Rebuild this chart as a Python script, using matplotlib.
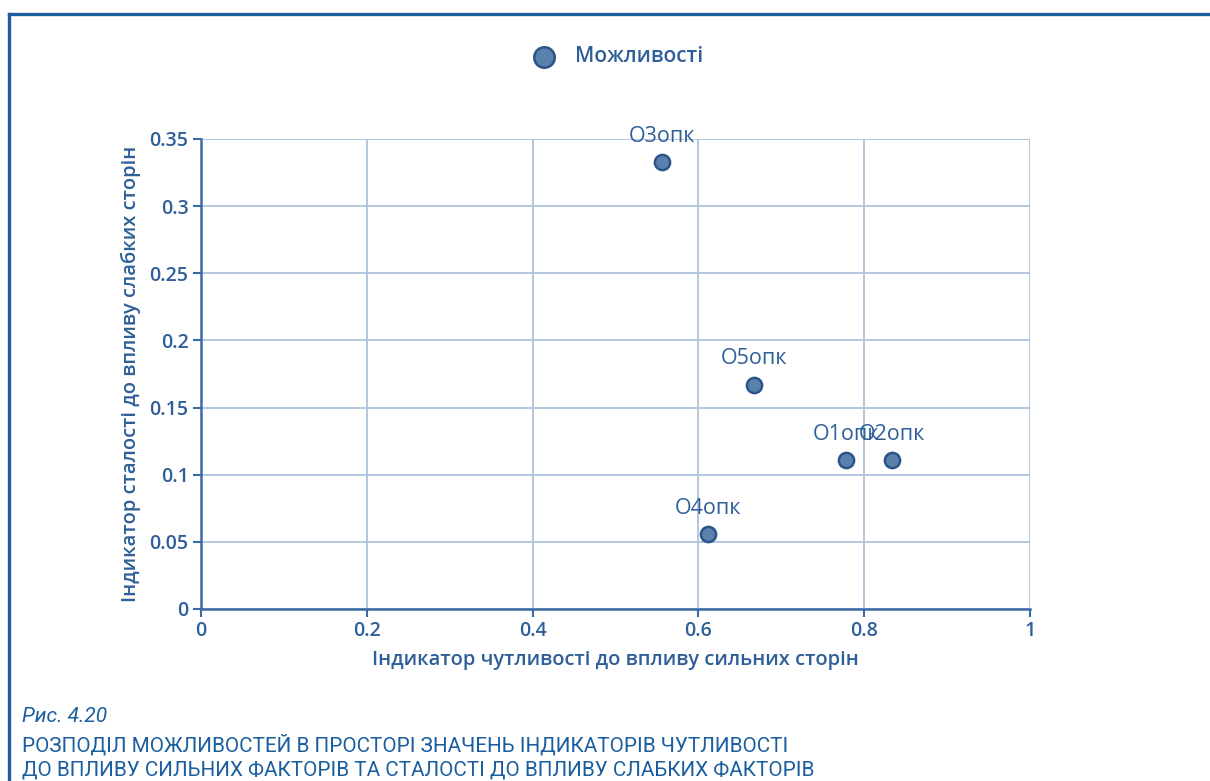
import matplotlib
matplotlib.use("Agg")
import matplotlib.pyplot as plt
from matplotlib.lines import Line2D
from matplotlib.ticker import FuncFormatter

# data
labels = ["O1опк", "O2опк", "O3опк", "O4опк", "O5опк"]
x_vals = [0.778, 0.833, 0.556, 0.611, 0.667]
y_vals = [0.111, 0.111, 0.333, 0.0556, 0.167]
x_ticks = [0, 0.2, 0.4, 0.6, 0.8, 1]
y_ticks = [0, 0.05, 0.1, 0.15, 0.2, 0.25, 0.3, 0.35]

TXT = "#2f5f98"
SPINE = "#3b6aa2"
GRID = "#aec3dd"
FACE = "#5a80ae"
EDGE = "#2b5588"
FRAME = "#1b5e9f"

plt.rcParams["font.family"] = ["Open Sans", "DejaVu Sans"]

fig = plt.figure(figsize=(12.1, 7.81), dpi=100)
ax = fig.add_axes([201 / 1210, 1 - 609 / 781, 829 / 1210, 470 / 781])

ax.scatter(x_vals, y_vals, s=120, c=FACE, edgecolors=EDGE, linewidths=1.8,
           zorder=3, label="Можливості", clip_on=False)
for lab, x, y in zip(labels, x_vals, y_vals):
    ax.annotate(lab, (x, y), xytext=(0, 11), textcoords="offset points",
                ha="center", va="bottom", color=TXT, fontsize=15.5)

ax.set_xlim(0, 1)
ax.set_ylim(0, 0.35)
ax.set_xticks(x_ticks)
ax.set_yticks(y_ticks)
fmt = FuncFormatter(lambda v, p: "%g" % v)
ax.xaxis.set_major_formatter(fmt)
ax.yaxis.set_major_formatter(fmt)
ax.grid(True, color=GRID, linewidth=1.3)
ax.set_axisbelow(True)

for side in ["top", "right"]:
    ax.spines[side].set_visible(False)
for side in ["left", "bottom"]:
    ax.spines[side].set_color(SPINE)
    ax.spines[side].set_linewidth(1.8)
ax.tick_params(colors=SPINE, labelcolor=TXT, labelsize=14, length=6, width=1.5,
               pad=3)
for t in ax.get_xticklabels() + ax.get_yticklabels():
    t.set_fontweight("semibold")

ax.set_xlabel("Індикатор чутливості до впливу сильних сторін", color=TXT,
              fontsize=14.5, fontweight="semibold", labelpad=6)
ax.set_ylabel("Індикатор сталості до впливу слабких сторін", color=TXT,
              fontsize=14.5, fontweight="semibold", labelpad=6)

leg = ax.legend(loc="center", bbox_to_anchor=(0.497, 1.175), frameon=False,
                fontsize=15, handletextpad=0.5, markerscale=1.35)
for t in leg.get_texts():
    t.set_color(TXT)
    t.set_fontweight("semibold")

# page frame
fig.add_artist(Line2D([9 / 1210, 9 / 1210], [0, 1 - 14 / 781],
                      transform=fig.transFigure, color=FRAME, linewidth=2.4))
fig.add_artist(Line2D([9 / 1210, 1], [1 - 14 / 781, 1 - 14 / 781],
                      transform=fig.transFigure, color=FRAME, linewidth=2.4))

cap_font = ["Roboto", "DejaVu Sans"]
fig.text(22 / 1210, 1 - 716 / 781, "Рис. 4.20", color=FRAME, fontsize=15,
         style="italic", va="center", family=cap_font)
fig.text(22 / 1210, 1 - 745 / 781,
         "РОЗПОДІЛ МОЖЛИВОСТЕЙ В ПРОСТОРІ ЗНАЧЕНЬ ІНДИКАТОРІВ ЧУТЛИВОСТІ",
         color=FRAME, fontsize=14.9, va="center", family=cap_font)
fig.text(22 / 1210, 1 - 770 / 781,
         "ДО ВПЛИВУ СИЛЬНИХ ФАКТОРІВ ТА СТАЛОСТІ ДО ВПЛИВУ СЛАБКИХ ФАКТОРІВ",
         color=FRAME, fontsize=14.9, va="center", family=cap_font)

fig.savefig("out.png", dpi=100)
